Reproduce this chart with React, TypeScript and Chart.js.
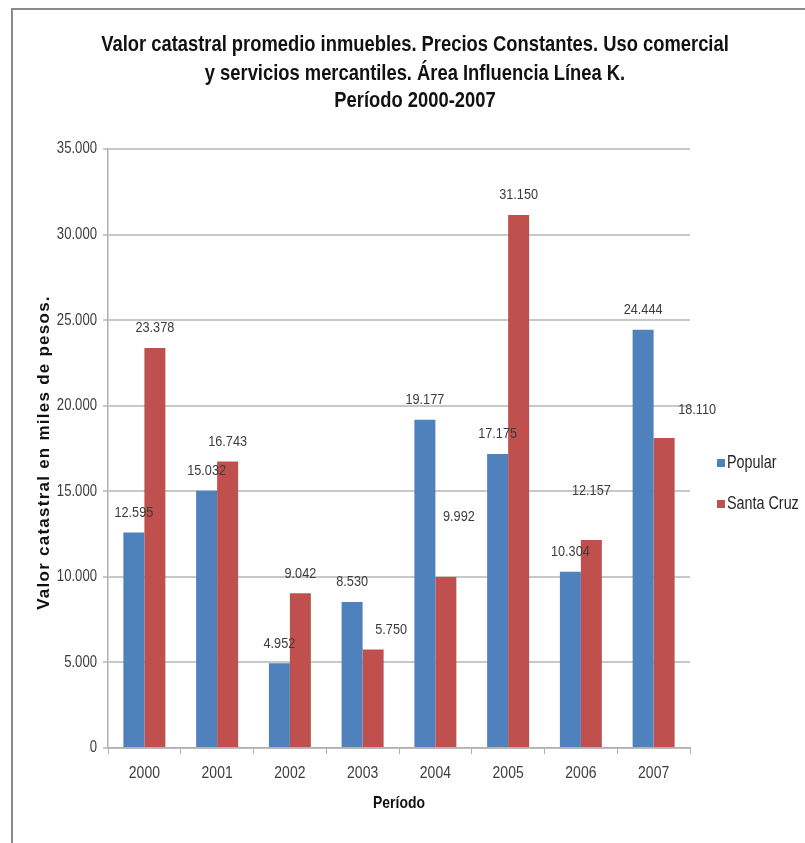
import React, { useEffect, useRef } from "react";
import { Chart, registerables } from "chart.js";

Chart.register(...registerables);

const years = ["2000", "2001", "2002", "2003", "2004", "2005", "2006", "2007"];
const popular = [12595, 15032, 4952, 8530, 19177, 17175, 10304, 24444];
const santaCruz = [23378, 16743, 9042, 5750, 9992, 31150, 12157, 18110];
const seriesNames = ["Popular", "Santa Cruz"];
const titleLines = [
  "Valor catastral promedio inmuebles. Precios Constantes. Uso comercial",
  "y servicios mercantiles. Área Influencia Línea K.",
  "Período 2000-2007",
];
const yTitle = "Valor catastral en miles de pesos.";
const xTitle = "Período";

const BLUE = "#4F81BD";
const RED = "#C0504D";
const SANS = "'Liberation Sans', Arial, sans-serif";
const NARROW_SCALE = 0.82; // emulate Arial Narrow

const fmt = (v: number) => String(Math.round(v)).replace(/\B(?=(\d{3})+(?!\d))/g, ".");

// manual label nudges (dataset index -> point index -> [dx, dy]) like moved Excel labels
const labelNudges: Record<number, Record<number, [number, number]>> = {
  1: { 3: [18, 0], 4: [13, -40], 6: [0, -29], 7: [33, -8] },
};

function narrowText(
  ctx: CanvasRenderingContext2D,
  text: string,
  x: number,
  y: number,
  font: string,
  color: string,
  align: CanvasTextAlign = "center"
) {
  ctx.save();
  ctx.font = font;
  ctx.fillStyle = color;
  ctx.textAlign = align;
  ctx.textBaseline = "middle";
  ctx.translate(x, y);
  ctx.scale(NARROW_SCALE, 1);
  ctx.fillText(text, 0, 0);
  ctx.restore();
}

const overlay = {
  id: "overlay",
  afterDraw(chart: any) {
    const ctx = chart.ctx as CanvasRenderingContext2D;
    const area = chart.chartArea;
    ctx.save();
    // frame
    ctx.strokeStyle = "#8A8A8A";
    ctx.lineWidth = 2;
    ctx.beginPath();
    ctx.moveTo(12, 843);
    ctx.lineTo(12, 9);
    ctx.lineTo(805, 9);
    ctx.stroke();

    // title
    const ty = [45, 74, 101];
    titleLines.forEach((l, i) => narrowText(ctx, l, 415, ty[i], `bold 22.4px ${SANS}`, "#111111"));

    // y title
    ctx.save();
    ctx.translate(44, (area.top + area.bottom) / 2 + 4);
    ctx.rotate(-Math.PI / 2);
    ctx.font = `bold 17px ${SANS}`;
    (ctx as any).letterSpacing = "1.25px";
    ctx.fillStyle = "#111111";
    ctx.textAlign = "center";
    ctx.textBaseline = "middle";
    ctx.fillText(yTitle, 0, 0);
    ctx.restore();

    // x title
    narrowText(ctx, xTitle, (area.left + area.right) / 2, 803, `bold 17px ${SANS}`, "#111111");

    // tick labels (from the library's scales)
    const ys = chart.scales.y;
    ys.ticks.forEach((t: any) => {
      narrowText(ctx, fmt(t.value), 97, ys.getPixelForValue(t.value), `16px ${SANS}`, "#3C3C3C", "right");
    });
    const xs = chart.scales.x;
    years.forEach((y, i) => {
      narrowText(ctx, y, xs.getPixelForTick(i), 773, `17px ${SANS}`, "#3C3C3C");
    });

    // data labels
    chart.data.datasets.forEach((ds: any, di: number) => {
      const meta = chart.getDatasetMeta(di);
      meta.data.forEach((bar: any, i: number) => {
        const n = (labelNudges[di] && labelNudges[di][i]) || [0, 0];
        narrowText(ctx, fmt(ds.data[i]), bar.x + n[0], bar.y - 20 + n[1], `15.5px ${SANS}`, "#3C3C3C");
      });
    });

    // legend
    const colors = [BLUE, RED];
    const ly = [463, 504];
    seriesNames.forEach((s, i) => {
      ctx.fillStyle = colors[i];
      ctx.fillRect(717, ly[i] - 4, 8, 8);
      narrowText(ctx, s, 727, ly[i], `17.5px ${SANS}`, "#262626", "left");
    });
    ctx.restore();
  },
};

export default function App() {
  const ref = useRef<HTMLCanvasElement>(null);
  useEffect(() => {
    if (!ref.current) return;
    const chart = new Chart(ref.current, {
      type: "bar",
      data: {
        labels: years,
        datasets: [
          { label: seriesNames[0], data: popular, backgroundColor: BLUE, barPercentage: 1, categoryPercentage: 0.577 },
          { label: seriesNames[1], data: santaCruz, backgroundColor: RED, barPercentage: 1, categoryPercentage: 0.577 },
        ],
      },
      options: {
        responsive: false,
        animation: false,
        layout: { padding: { left: 0, top: 149, right: 115, bottom: 0 } },
        plugins: { legend: { display: false }, title: { display: false }, tooltip: { enabled: false } },
        scales: {
          x: {
            grid: { drawOnChartArea: false, drawTicks: true, tickLength: 6, color: "#B0B0B0", offset: true },
            border: { color: "#B0B0B0", width: 1.5 },
            ticks: { display: false },
            afterFit: (s: any) => { s.height = 95; },
          },
          y: {
            min: 0,
            max: 35000,
            grid: { color: "#C8C8C8", lineWidth: 2, tickLength: 5 },
            border: { color: "#B0B0B0", width: 1.5 },
            ticks: { stepSize: 5000, display: false },
            afterFit: (s: any) => { s.width = 108; },
          },
        },
      },
      plugins: [overlay],
    });
    return () => chart.destroy();
  }, []);
  return <canvas ref={ref} width={805} height={843} style={{ position: "fixed", left: 0, top: 0 }} />;
}
